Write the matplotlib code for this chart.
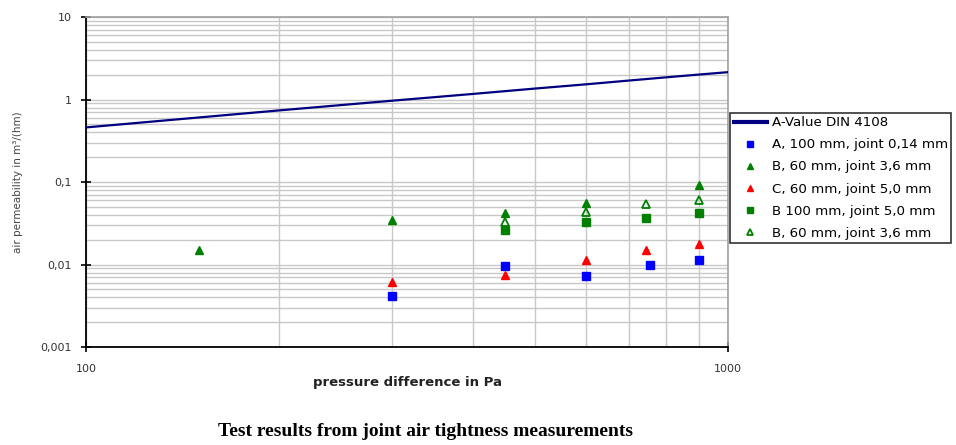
import numpy as np
import matplotlib.pyplot as plt
from matplotlib.ticker import FixedLocator, LogLocator, NullFormatter

# A-value line (DIN 4108)
din_p = [100, 200, 300, 400, 500, 600, 700, 800, 900, 1000]
din_a = [0.46, 0.74, 0.97, 1.17, 1.36, 1.53, 1.70, 1.86, 2.01, 2.15]

# measured series
a100_p = [300, 450, 600, 755, 900]
a100_v = [0.0042, 0.0096, 0.0073, 0.0099, 0.0113]

b60_p = [150, 300, 450, 600, 900]
b60_v = [0.015, 0.035, 0.042, 0.056, 0.092]

c60_p = [300, 450, 600, 745, 900]
c60_v = [0.0061, 0.0075, 0.0113, 0.015, 0.0177]

b100_p = [450, 600, 745, 900]
b100_v = [0.026, 0.033, 0.037, 0.042]

b60o_p = [450, 600, 745, 900]
b60o_v = [0.033, 0.043, 0.054, 0.061]

y_ticks = [0.001, 0.01, 0.1, 1, 10]
y_labels = ['0,001', '0,01', '0,1', '1', '10']

plt.rcParams['font.family'] = ['DejaVu Sans']

fig = plt.figure(figsize=(9.56, 4.45), dpi=100)
ax = fig.add_axes([0.09, 0.22, 0.6716, 0.7416])

ax.plot(din_p, din_a, color='#000080', lw=1.6, label='A-Value DIN 4108', zorder=3)
ax.plot(a100_p, a100_v, 's', color='#0000ff', ms=6, ls='none', label='A, 100 mm, joint 0,14 mm', zorder=4)
ax.plot(b60_p, b60_v, '^', color='#008000', ms=6, ls='none', label='B, 60 mm, joint 3,6 mm', zorder=4)
ax.plot(c60_p, c60_v, '^', color='#ff0000', ms=6, ls='none', label='C, 60 mm, joint 5,0 mm', zorder=4)
ax.plot(b100_p, b100_v, 's', color='#008000', ms=6, ls='none', label='B 100 mm, joint 5,0 mm', zorder=4)
ax.plot(b60o_p, b60o_v, '^', mfc='none', mec='#008000', mew=1.3, ms=6, ls='none',
        label='B, 60 mm, joint 3,6 mm', zorder=4)

ax.set_xscale('log')
ax.set_yscale('log')
ax.set_xlim(100, 1000)
ax.set_ylim(0.001, 10)

ax.yaxis.set_major_locator(FixedLocator(y_ticks))
ax.set_yticklabels(y_labels)
ax.yaxis.set_minor_locator(LogLocator(base=10, subs=np.arange(2, 10)))
ax.yaxis.set_minor_formatter(NullFormatter())
ax.xaxis.set_major_locator(FixedLocator([100, 1000]))
ax.set_xticklabels(['100', '1000'])
ax.xaxis.set_minor_locator(LogLocator(base=10, subs=np.arange(2, 10)))
ax.xaxis.set_minor_formatter(NullFormatter())

ax.grid(True, which='both', color='#c8c8c8', lw=1.0, zorder=0)
ax.tick_params(which='minor', length=0)
ax.tick_params(which='major', direction='inout', length=7, width=1.2,
               labelsize=8, labelcolor='#333333')
ax.tick_params(axis='x', pad=9)
ax.tick_params(axis='y', pad=7)

for s in ['left', 'bottom']:
    ax.spines[s].set_linewidth(1.3)
for s in ['top', 'right']:
    ax.spines[s].set_color('#a0a0a0')
    ax.spines[s].set_linewidth(1.2)

ax.set_xlabel('pressure difference in Pa', fontsize=9.5, fontweight='bold', color='#222222', labelpad=1)
ax.set_ylabel('air permeability in m³/(hm)', fontsize=7.5, color='#444444', labelpad=12)

leg = ax.legend(loc='upper left', bbox_to_anchor=(0.764, 0.746), bbox_transform=fig.transFigure,
                fontsize=9.6, frameon=True, fancybox=False, edgecolor='black',
                handlelength=2.5, borderpad=0.25, labelspacing=0.68, handletextpad=0.35,
                borderaxespad=0, markerscale=0.8)
leg.get_frame().set_linewidth(1.2)
leg.get_lines()[0].set_linewidth(3)

fig.text(0.445, 0.03, 'Test results from joint air tightness measurements',
         family=['Liberation Serif', 'DejaVu Serif'], fontsize=14, fontweight='bold',
         ha='center', va='center')

fig.savefig('out.png', dpi=100)
